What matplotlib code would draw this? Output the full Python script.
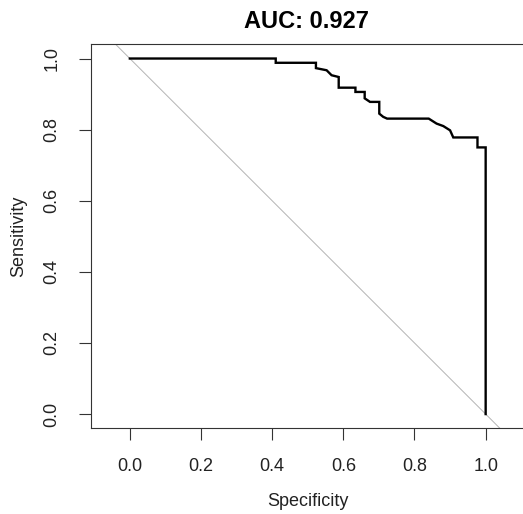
import numpy as np
import matplotlib
matplotlib.use("Agg")
from matplotlib import pyplot as plt

plt.rcParams['font.family'] = ['Liberation Sans', 'DejaVu Sans']

# ROC curve (specificity, sensitivity)
specificity = [0.0, 0.41, 0.41, 0.523, 0.523, 0.553, 0.567, 0.587, 0.587, 0.634, 0.634,
               0.66, 0.66, 0.675, 0.701, 0.701, 0.712, 0.723, 0.84, 0.862, 0.881,
               0.90, 0.909, 0.977, 0.977, 1.0, 1.0]
sensitivity = [1.0, 1.0, 0.988, 0.988, 0.973, 0.967, 0.953, 0.948, 0.918, 0.918, 0.906,
               0.906, 0.888, 0.878, 0.878, 0.845, 0.836, 0.831, 0.831, 0.817, 0.810,
               0.798, 0.778, 0.778, 0.750, 0.750, 0.0]
auc = 0.927
ticks = [0.0, 0.2, 0.4, 0.6, 0.8, 1.0]

W, H = 523, 514
fig = plt.figure(figsize=(W / 100, H / 100), dpi=100)
ax = fig.add_axes([90.7 / W, (H - 428.3) / H, (524.8 - 90.7) / W, (428.3 - 44.3) / H])

ax.set_xlim(-0.11, 1.11)
ax.set_ylim(-0.04, 1.04)

# chance line
xx = np.array([-0.2, 1.2])
ax.plot(xx, 1 - xx, color='#b4b4b4', lw=0.7)
ax.plot(specificity, sensitivity, color='black', lw=1.7, solid_joinstyle='miter')

ax.set_xticks(ticks)
ax.set_yticks(ticks)
ax.set_xticklabels(['%.1f' % t for t in ticks])
ax.set_yticklabels(['%.1f' % t for t in ticks], rotation=90, va='center')
ax.tick_params(length=8.6, width=0.8, color='#333333', labelsize=13, labelcolor='#222222')
ax.tick_params(axis='x', pad=13)
ax.tick_params(axis='y', pad=13)
for s in ax.spines.values():
    s.set_linewidth(0.8)
    s.set_color('#333333')

fig.text(306 / W, 1 - 22 / H, 'AUC: %.3f' % auc, ha='center', va='center',
         fontsize=17, fontweight='bold')
fig.text(308 / W, 1 - 501.7 / H, 'Specificity', ha='center', va='center', fontsize=13,
         color='#222222')
fig.text(19 / W, 1 - 236 / H, 'Sensitivity', ha='center', va='center', fontsize=13,
         rotation=90, color='#222222')

fig.savefig('out.png', dpi=100)
